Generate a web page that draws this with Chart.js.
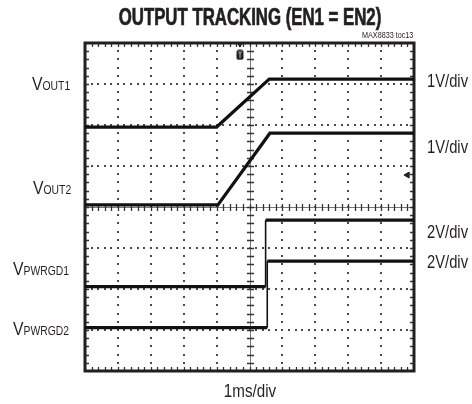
<!DOCTYPE html>
<html>
<head>
<meta charset="utf-8">
<script src="https://cdn.jsdelivr.net/npm/chart.js@4.4.1/dist/chart.umd.min.js"></script>
<style>
  html, body { margin:0; padding:0; background:#fff; }
  #wrap { position:relative; width:472px; height:404px; overflow:hidden;
          font-family:"Liberation Sans", Arial, sans-serif; color:#231f20; }
  #wrap canvas { position:absolute; left:0; top:0; }
  .lbl { position:absolute; white-space:nowrap; line-height:1; transform-origin:left top; }
  .sub { font-size:12.5px; }
</style>
</head>
<body>
<div id="wrap">
  <canvas id="scope" width="472" height="404"></canvas>
</div>
<script>
// ===== data (in divisions: x 0..10, y 0..8) =====
const xDivs = 10;
const yDivs = 8;

const vout1X = [0, 4.0, 5.6, 10];
const vout1Y = [5.95, 5.95, 7.12, 7.12];
const vout2X = [0, 4.04, 5.62, 10];
const vout2Y = [4.05, 4.05, 5.8, 5.8];
const pwrgd1X = [0, 5.49, 5.49, 10];
const pwrgd1Y = [2.06, 2.06, 3.68, 3.68];
const pwrgd2X = [0, 5.54, 5.54, 10];
const pwrgd2Y = [1.06, 1.06, 2.68, 2.68];

// markers: trigger badge + top pointer, reference arrow at right
const trigX = [4.71];
const trigY = [7.71];
const trigTopX = [4.71];
const trigTopY = [7.96];
const refX = [9.8];
const refY = [4.78];

// ===== texts =====
const chartTitle = "OUTPUT TRACKING (EN1 = EN2)";
const chartTag = "MAX8833 toc13";
const channelNames = [["V", "OUT1"], ["V", "OUT2"], ["V", "PWRGD1"], ["V", "PWRGD2"]];
const channelScales = ["1V/div", "1V/div", "2V/div", "2V/div"];
const timeScale = "1ms/div";

// label layout (baseline y in px)
const nameLeft = [32, 33, 13, 13];
const nameBase = [90, 194, 275, 335];
const scaleBase = [87, 153, 238, 268];

// ===== helpers =====
function pts(xs, ys) {
  return xs.map((x, i) => ({x, y: ys[i]}));
}

function trace(label, xs, ys) {
  return {
    label,
    data: pts(xs, ys),
    showLine: true,
    borderColor: "#111",
    borderWidth: 3.2,
    pointRadius: 0,
    tension: 0,
    segment: {
      borderWidth: c => c.p0.parsed.x === c.p1.parsed.x ? 1.6 : 3.2
    }
  };
}

function marker(label, xs, ys, style, r, rot) {
  return {
    label,
    data: pts(xs, ys),
    pointStyle: style,
    pointRadius: r,
    rotation: rot || 0,
    backgroundColor: "#222",
    borderColor: "#222",
    borderWidth: 1
  };
}

function addLabel(text, style, html) {
  const d = document.createElement("div");
  d.className = "lbl";
  if (html) d.innerHTML = text; else d.textContent = text;
  Object.assign(d.style, style);
  document.getElementById("wrap").appendChild(d);
  return d;
}

// small "T" badge used as trigger point style
function trigBadge() {
  const c = document.createElement("canvas");
  c.width = 8; c.height = 11;
  const g = c.getContext("2d");
  g.fillStyle = "#222";
  g.beginPath();
  g.roundRect(0.5, 0.5, 7, 10, 2);
  g.fill();
  g.strokeStyle = "#bbb";
  g.lineWidth = 1;
  g.beginPath();
  g.moveTo(2, 3); g.lineTo(6, 3);
  g.moveTo(4, 3); g.lineTo(4, 8.5);
  g.stroke();
  return c;
}

// ===== graticule =====
const graticule = {
  id: "graticule",
  beforeDatasetsDraw(chart) {
    const {ctx, chartArea: a, scales: {x, y}} = chart;
    ctx.save();

    // dotted division lines
    ctx.fillStyle = "#4a4a4a";
    for (let i = 1; i < xDivs; i++) {
      if (i === xDivs / 2) continue;
      const px = x.getPixelForValue(i);
      for (let m = 1; m < yDivs * 5; m++) {
        const py = y.getPixelForValue(m / 5);
        ctx.fillRect(Math.round(px) - 1, Math.round(py) - 1, 2, 2);
      }
    }
    for (let j = 1; j < yDivs; j++) {
      if (j === yDivs / 2) continue;
      const py = y.getPixelForValue(j);
      for (let m = 1; m < xDivs * 5; m++) {
        const px = x.getPixelForValue(m / 5);
        ctx.fillRect(Math.round(px) - 1, Math.round(py) - 1, 2, 2);
      }
    }

    // centre lines with minor ticks
    const cx = Math.round(x.getPixelForValue(xDivs / 2)) + 0.5;
    const cy = Math.round(y.getPixelForValue(yDivs / 2)) + 0.5;
    ctx.strokeStyle = "#777";
    ctx.lineWidth = 1;
    ctx.beginPath();
    ctx.moveTo(a.left, cy); ctx.lineTo(a.right, cy);
    ctx.moveTo(cx, a.top); ctx.lineTo(cx, a.bottom);
    ctx.stroke();

    ctx.strokeStyle = "#333";
    ctx.lineWidth = 1.3;
    ctx.beginPath();
    for (let m = 1; m < xDivs * 5; m++) {
      const px = Math.round(x.getPixelForValue(m / 5)) + 0.5;
      ctx.moveTo(px, cy - 3.5); ctx.lineTo(px, cy + 3.5);
      ctx.moveTo(px, a.top); ctx.lineTo(px, a.top + 4);
      ctx.moveTo(px, a.bottom); ctx.lineTo(px, a.bottom - 4);
    }
    for (let m = 1; m < yDivs * 5; m++) {
      const py = Math.round(y.getPixelForValue(m / 5)) + 0.5;
      ctx.moveTo(cx - 3.5, py); ctx.lineTo(cx + 3.5, py);
      ctx.moveTo(a.left, py); ctx.lineTo(a.left + 4, py);
      ctx.moveTo(a.right, py); ctx.lineTo(a.right - 4, py);
    }
    ctx.stroke();

    // frame
    ctx.strokeStyle = "#231f20";
    ctx.lineWidth = 3;
    ctx.strokeRect(a.left, a.top, a.right - a.left, a.bottom - a.top);
    ctx.restore();
  }
};

// ===== chart =====
new Chart(document.getElementById("scope"), {
  type: "scatter",
  data: {
    datasets: [
      trace("VOUT1", vout1X, vout1Y),
      trace("VOUT2", vout2X, vout2Y),
      trace("VPWRGD1", pwrgd1X, pwrgd1Y),
      trace("VPWRGD2", pwrgd2X, pwrgd2Y),
      marker("trigger", trigX, trigY, trigBadge(), 5),
      marker("trigger top", trigTopX, trigTopY, "triangle", 2.5, 180),
      marker("ref", refX, refY, "triangle", 3.5, -90)
    ]
  },
  options: {
    responsive: false,
    animation: false,
    layout: { padding: { left: 85, top: 43, right: 58, bottom: 33 } },
    plugins: { legend: { display: false }, tooltip: { enabled: false } },
    scales: {
      x: { type: "linear", min: 0, max: xDivs, display: false },
      y: { type: "linear", min: 0, max: yDivs, display: false }
    }
  },
  plugins: [graticule]
});

// ===== texts =====
addLabel(chartTitle, {
  left: "250px", top: "5.5px", fontSize: "23px", fontWeight: "bold",
  webkitTextStroke: "0.7px #231f20",
  transform: "translateX(-50%) scaleX(0.73)", transformOrigin: "center top"
});
const tag = addLabel(chartTag, { left: "0px", top: "30px", fontSize: "9.5px" });
tag.style.left = (414 - tag.offsetWidth * 0.76) + "px";
tag.style.transform = "scaleX(0.76)";

channelNames.forEach((n, i) => {
  addLabel(n[0] + '<span class="sub">' + n[1] + "</span>", {
    left: nameLeft[i] + "px", top: (nameBase[i] - 16.1) + "px", fontSize: "19px",
    transform: "scaleX(0.83)"
  }, true);
});
channelScales.forEach((s, i) => {
  addLabel(s, {
    left: "427px", top: (scaleBase[i] - 15.2) + "px", fontSize: "18px",
    transform: "scaleX(0.82)"
  });
});
addLabel(timeScale, {
  left: "249.5px", top: (398 - 15.6) + "px", fontSize: "18.5px",
  transform: "translateX(-50%) scaleX(0.82)", transformOrigin: "center top"
});
</script>
</body>
</html>
